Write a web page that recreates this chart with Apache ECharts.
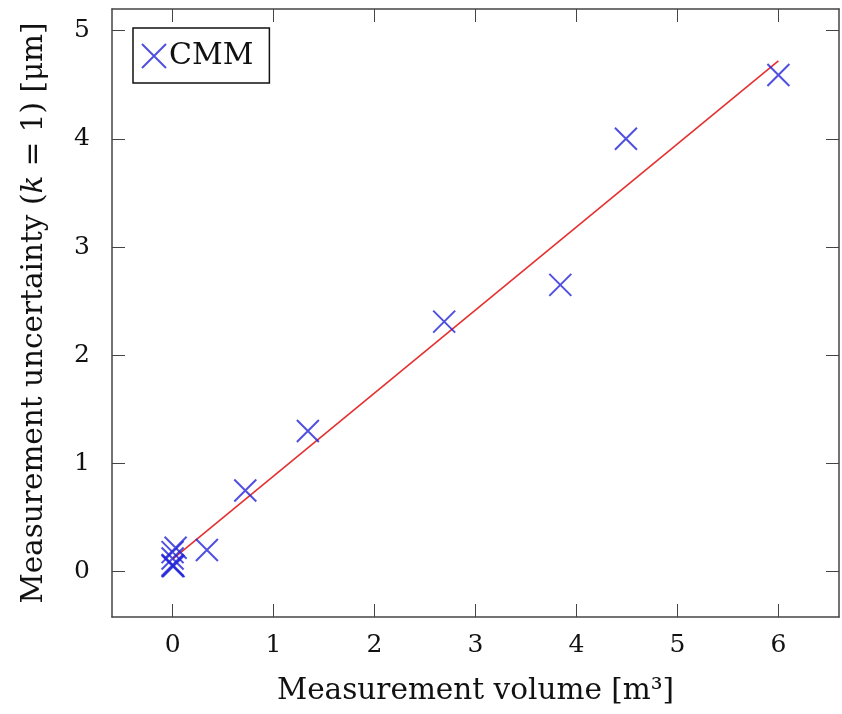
<!DOCTYPE html>
<html>
<head>
<meta charset="utf-8">
<script src="https://cdn.jsdelivr.net/npm/echarts@6/dist/echarts.min.js"></script>
<style>
  html, body { margin: 0; padding: 0; background: #fff; }
  #main { width: 842px; height: 714px; }
</style>
</head>
<body>
<div id="main"></div>
<script>
// data
var volume = [0, 0.01, 0, 0, 0, 0.03, 0.34, 0.72, 1.34, 2.69, 3.84, 4.49, 6.0];
var uncertainty = [0.05, 0.05, 0.06, 0.12, 0.18, 0.22, 0.2, 0.75, 1.3, 2.31, 2.65, 4.0, 4.59];
var fitX = [0, 6];
var fitY = [0.115, 4.72];
var xTicks = [0, 1, 2, 3, 4, 5, 6];
var yTicks = [0, 1, 2, 3, 4, 5];

var chart = echarts.init(document.getElementById('main'));

var serif = 'DejaVu Serif';
var axisCol = '#444';
var crossPath = 'path://M0,0L10,10M10,0L0,10';

var pts = [];
for (var i = 0; i < volume.length; i++) pts.push([volume[i], uncertainty[i]]);
var fit = [];
for (var j = 0; j < fitX.length; j++) fit.push([fitX[j], fitY[j]]);

function xAx(pos, show) {
  return {
    type: 'value', position: pos, min: -0.6, max: 6.6, interval: 1,
    axisLine: { show: true, onZero: false, lineStyle: { color: axisCol, width: 1.5 } },
    axisTick: { show: true, inside: true, length: 13, lineStyle: { color: axisCol, width: 1 },
      customValues: xTicks },
    axisLabel: { show: show, margin: 16, fontFamily: serif, fontSize: 25, color: '#111',
      customValues: xTicks },
    splitLine: { show: false },
    name: show ? 'Measurement volume [m³]' : '',
    nameLocation: 'middle', nameGap: 59,
    nameTextStyle: { fontFamily: serif, fontSize: 29.5, color: '#111' }
  };
}
function yAx(pos, show) {
  return {
    type: 'value', position: pos, min: -0.42, max: 5.2, interval: 1,
    axisLine: { show: true, onZero: false, lineStyle: { color: axisCol, width: 1.5 } },
    axisTick: { show: true, inside: true, length: 13, lineStyle: { color: axisCol, width: 1 },
      customValues: yTicks },
    axisLabel: { show: show, margin: 22, fontFamily: serif, fontSize: 25, color: '#111',
      customValues: yTicks },
    splitLine: { show: false },
    name: show ? '{a|Measurement uncertainty (}{i|k}{a| = 1) [μm]}' : '',
    nameLocation: 'middle', nameGap: 63,
    nameTextStyle: {
      rich: {
        a: { fontFamily: serif, fontSize: 29.5, color: '#111' },
        i: { fontFamily: serif, fontSize: 29.5, fontStyle: 'italic', color: '#111' }
      }
    }
  };
}

var option = {
  animation: false,
  backgroundColor: '#fff',
  grid: { left: 112, top: 9, right: 3, bottom: 97 },
  xAxis: [xAx('bottom', true), xAx('top', false)],
  yAxis: [yAx('left', true), yAx('right', false)],
  legend: {
    left: 133, top: 28,
    orient: 'vertical',
    data: ['CMM'],
    backgroundColor: '#fff',
    borderColor: '#111', borderWidth: 1.5, borderRadius: 0,
    padding: [13, 16, 12, 8],
    itemWidth: 24, itemHeight: 24, itemGap: 4,
    textStyle: { fontFamily: serif, fontSize: 30, color: '#111', padding: [0, 0, 0, -2] }
  },
  series: [
    {
      name: 'fit', type: 'line', data: fit, symbol: 'none',
      lineStyle: { color: '#e53030', width: 1.6 }, z: 2
    },
    {
      name: 'CMM', type: 'scatter', data: pts,
      symbol: crossPath, symbolSize: 22,
      itemStyle: { color: 'rgba(0,0,0,0)', borderColor: '#2424d8', borderWidth: 2 },
      z: 3
    }
  ]
};

chart.setOption(option);
</script>
</body>
</html>
